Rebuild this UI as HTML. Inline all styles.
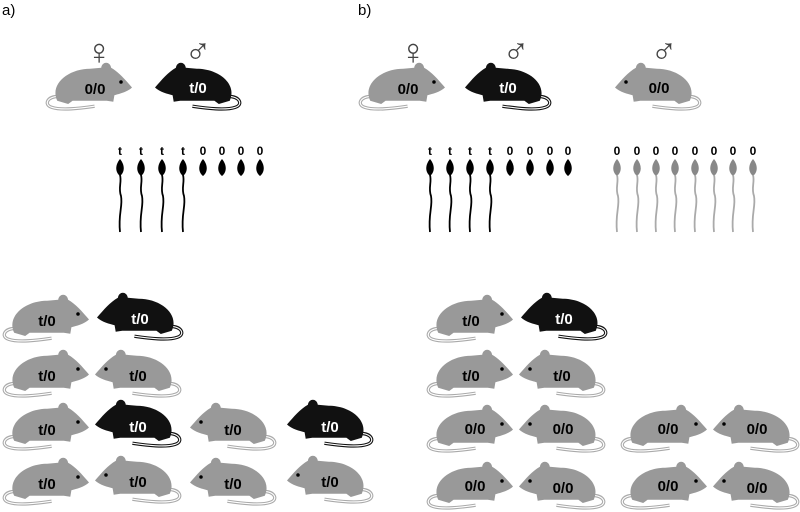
<!DOCTYPE html>
<html><head><style>
html,body{margin:0;padding:0;background:#fff;width:800px;height:512px;overflow:hidden}
svg text{font-family:"Liberation Sans",sans-serif;font-weight:bold}
</style></head><body>
<svg width="800" height="512" viewBox="0 0 800 512" xmlns="http://www.w3.org/2000/svg">
<defs>
<g id="mg"><g transform="translate(-3,-3) scale(1.1)">
<path d="M14,33 C2,33 0,41 7,43 C16,46 32,44 46,42" fill="none" stroke="#aaa" stroke-width="3"/>
<path d="M14,33 C2,33 0,41 7,43 C16,46 32,44 46,42" fill="none" stroke="#fff" stroke-width="1"/>
<path d="M12,37 C5,22 22,8 42,8 L52,7 C53,1 60,1 61,7 C68,11 74,18 80,25 C76,29 68,31 64,32 L63,38 L57,37 L26,37 L22,40 Z" fill="#999"/>
<circle cx="70" cy="20" r="1.6" fill="#000"/>
</g></g>
<g id="mb"><g transform="translate(-3,-3) scale(1.1)">
<path d="M14,33 C2,33 0,41 7,43 C16,46 32,44 46,42" fill="none" stroke="#111" stroke-width="3"/>
<path d="M14,33 C2,33 0,41 7,43 C16,46 32,44 46,42" fill="none" stroke="#fff" stroke-width="1"/>
<path d="M12,37 C5,22 22,8 42,8 L52,7 C53,1 60,1 61,7 C68,11 74,18 80,25 C76,29 68,31 64,32 L63,38 L57,37 L26,37 L22,40 Z" fill="#111"/>
</g></g>
<g id="sb"><path d="M0,-9 C5,-3 5,4 0,8 C-5,4 -5,-3 0,-9Z" fill="#000"/></g>
<g id="tb"><path d="M0,7 C2,14 -2,20 1,28 C3,38 -2,46 0,64" fill="none" stroke="#000" stroke-width="1.8"/></g>
<g id="sg"><path d="M0,-9 C5,-3 5,4 0,8 C-5,4 -5,-3 0,-9Z" fill="#888"/><path d="M0,7 C2,14 -2,20 1,28 C3,38 -2,46 0,64" fill="none" stroke="#aaa" stroke-width="1.8"/></g>
</defs>
<text x="2" y="15" font-size="15" style="font-weight:normal">a)</text>
<text x="358" y="15" font-size="15" style="font-weight:normal">b)</text>
<g font-size="36" text-anchor="middle" style="font-weight:normal" fill="#444">
<text x="99" y="64">♀</text><text x="198" y="62">♂</text>
<text x="413" y="64">♀</text><text x="516" y="62">♂</text><text x="664" y="62">♂</text>
</g>
<g font-size="15" text-anchor="middle">
<use href="#mg" transform="translate(47,63)"/><text x="95" y="94">0/0</text>
<use href="#mb" transform="translate(240,63) scale(-1,1)"/><text x="198" y="93" fill="#fff">t/0</text>
<use href="#mg" transform="translate(360,63)"/><text x="408" y="94">0/0</text>
<use href="#mb" transform="translate(550,63) scale(-1,1)"/><text x="508" y="93" fill="#fff">t/0</text>
<use href="#mg" transform="translate(700,63) scale(-1,1)"/><text x="659" y="93">0/0</text>

<use href="#mg" transform="translate(4,295)"/><text x="47" y="326">t/0</text>
<use href="#mb" transform="translate(182,293) scale(-1,1)"/><text x="140" y="324" fill="#fff">t/0</text>
<use href="#mg" transform="translate(4,350)"/><text x="47" y="381">t/0</text>
<use href="#mg" transform="translate(180,350) scale(-1,1)"/><text x="138" y="381">t/0</text>
<use href="#mg" transform="translate(4,403)"/><text x="47" y="435">t/0</text>
<use href="#mb" transform="translate(180,400) scale(-1,1)"/><text x="138" y="432" fill="#fff">t/0</text>
<use href="#mg" transform="translate(275,403) scale(-1,1)"/><text x="233" y="435">t/0</text>
<use href="#mb" transform="translate(372,400) scale(-1,1)"/><text x="330" y="432" fill="#fff">t/0</text>
<use href="#mg" transform="translate(4,458)"/><text x="47" y="489">t/0</text>
<use href="#mg" transform="translate(180,456) scale(-1,1)"/><text x="138" y="487">t/0</text>
<use href="#mg" transform="translate(275,458) scale(-1,1)"/><text x="233" y="489">t/0</text>
<use href="#mg" transform="translate(372,456) scale(-1,1)"/><text x="330" y="487">t/0</text>

<use href="#mg" transform="translate(428,295)"/><text x="471" y="326">t/0</text>
<use href="#mb" transform="translate(606,293) scale(-1,1)"/><text x="564" y="324" fill="#fff">t/0</text>
<use href="#mg" transform="translate(428,350)"/><text x="471" y="381">t/0</text>
<use href="#mg" transform="translate(604,350) scale(-1,1)"/><text x="562" y="381">t/0</text>
<use href="#mg" transform="translate(428,405)"/><text x="475" y="434">0/0</text>
<use href="#mg" transform="translate(604,405) scale(-1,1)"/><text x="563" y="434">0/0</text>
<use href="#mg" transform="translate(622,405)"/><text x="668" y="434">0/0</text>
<use href="#mg" transform="translate(798,405) scale(-1,1)"/><text x="757" y="434">0/0</text>
<use href="#mg" transform="translate(428,462)"/><text x="475" y="491">0/0</text>
<use href="#mg" transform="translate(604,462) scale(-1,1)"/><text x="563" y="493">0/0</text>
<use href="#mg" transform="translate(622,462)"/><text x="668" y="491">0/0</text>
<use href="#mg" transform="translate(798,462) scale(-1,1)"/><text x="757" y="493">0/0</text>
</g>
<g font-size="12" text-anchor="middle">
<g transform="translate(120,168)"><use href="#sb"/><use href="#tb"/><text y="-13">t</text></g>
<g transform="translate(141,168)"><use href="#sb"/><use href="#tb"/><text y="-13">t</text></g>
<g transform="translate(162,168)"><use href="#sb"/><use href="#tb"/><text y="-13">t</text></g>
<g transform="translate(183,168)"><use href="#sb"/><use href="#tb"/><text y="-13">t</text></g>
<g transform="translate(203,168)"><use href="#sb"/><text y="-13">0</text></g>
<g transform="translate(222,168)"><use href="#sb"/><text y="-13">0</text></g>
<g transform="translate(241,168)"><use href="#sb"/><text y="-13">0</text></g>
<g transform="translate(260,168)"><use href="#sb"/><text y="-13">0</text></g>

<g transform="translate(430,168)"><use href="#sb"/><use href="#tb"/><text y="-13">t</text></g>
<g transform="translate(450,168)"><use href="#sb"/><use href="#tb"/><text y="-13">t</text></g>
<g transform="translate(470,168)"><use href="#sb"/><use href="#tb"/><text y="-13">t</text></g>
<g transform="translate(490,168)"><use href="#sb"/><use href="#tb"/><text y="-13">t</text></g>
<g transform="translate(510,168)"><use href="#sb"/><text y="-13">0</text></g>
<g transform="translate(530,168)"><use href="#sb"/><text y="-13">0</text></g>
<g transform="translate(550,168)"><use href="#sb"/><text y="-13">0</text></g>
<g transform="translate(568,168)"><use href="#sb"/><text y="-13">0</text></g>

<g transform="translate(617,168)"><use href="#sg"/><text y="-13">0</text></g>
<g transform="translate(637,168)"><use href="#sg"/><text y="-13">0</text></g>
<g transform="translate(656,168)"><use href="#sg"/><text y="-13">0</text></g>
<g transform="translate(675,168)"><use href="#sg"/><text y="-13">0</text></g>
<g transform="translate(695,168)"><use href="#sg"/><text y="-13">0</text></g>
<g transform="translate(714,168)"><use href="#sg"/><text y="-13">0</text></g>
<g transform="translate(733,168)"><use href="#sg"/><text y="-13">0</text></g>
<g transform="translate(753,168)"><use href="#sg"/><text y="-13">0</text></g>
</g>
</svg>
</body></html>
